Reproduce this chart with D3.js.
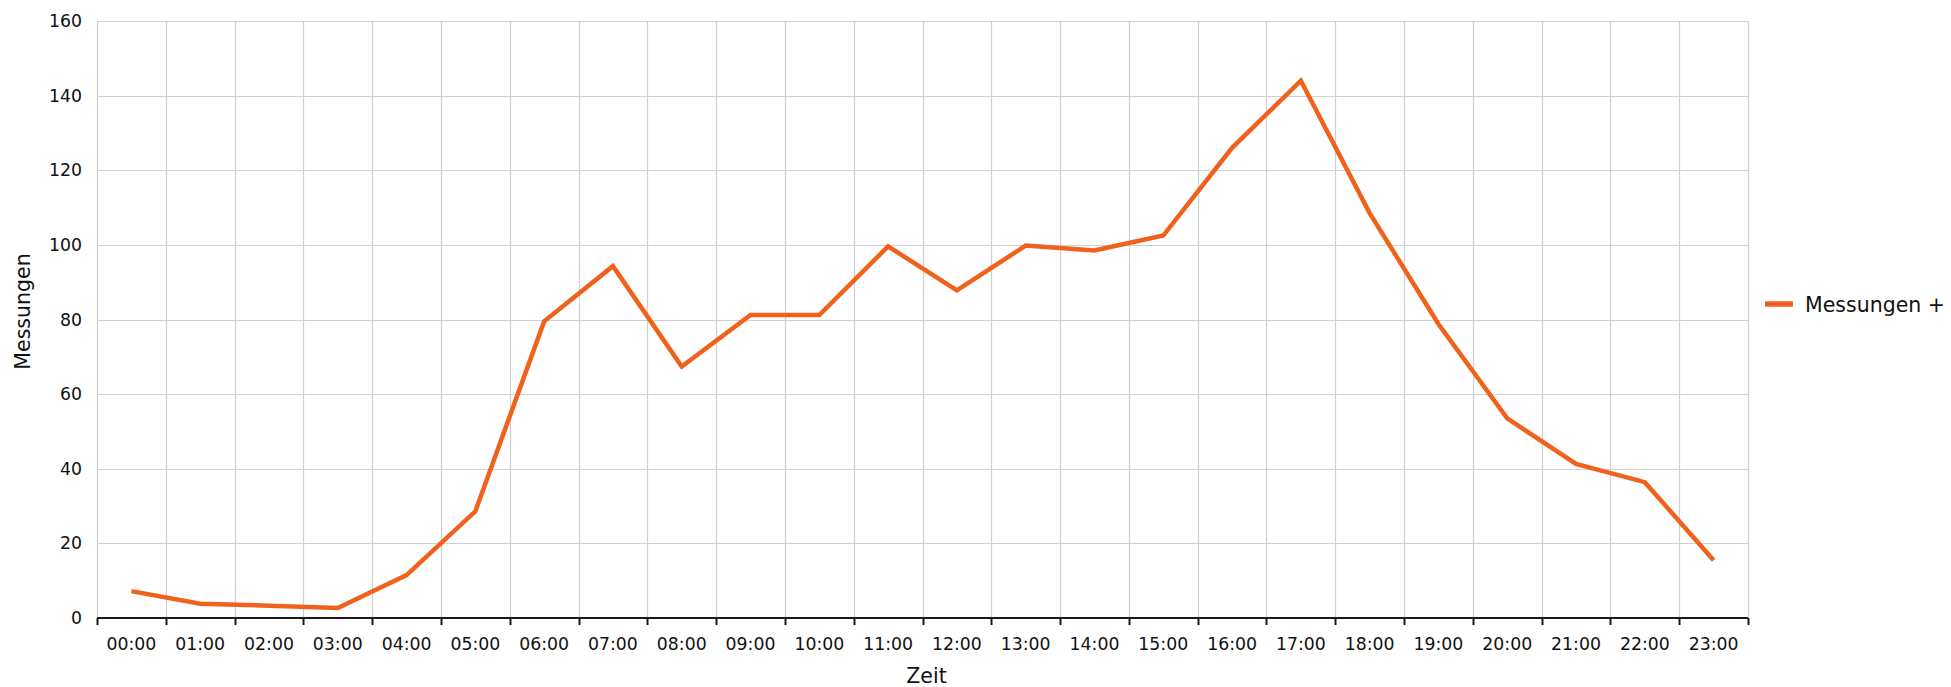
<!DOCTYPE html>
<html>
<head>
<meta charset="utf-8">
<script src="https://cdn.jsdelivr.net/npm/d3@7"></script>
<style>
  html, body { margin: 0; padding: 0; background: #ffffff; }
  svg { display: block; font-family: "DejaVu Sans", Verdana, sans-serif; }
</style>
</head>
<body>
<svg id="chart" width="1951" height="687"></svg>
<script>
// ---- data ----
const categories = ["00:00","01:00","02:00","03:00","04:00","05:00","06:00","07:00","08:00","09:00","10:00","11:00",
                    "12:00","13:00","14:00","15:00","16:00","17:00","18:00","19:00","20:00","21:00","22:00","23:00"];
const seriesName = "Messungen +";
const values = [7.2, 3.8, 3.3, 2.7, 11.5, 28.6, 79.5, 94.3, 67.4, 81.2, 81.2, 99.6,
                87.8, 99.8, 98.5, 102.5, 126, 144, 108.5, 78.8, 53.5, 41.3, 36.4, 15.5];
const yTicks = [0, 20, 40, 60, 80, 100, 120, 140, 160];
const xTitle = "Zeit";
const yTitle = "Messungen";

// ---- layout ----
const W = 1951, H = 687;
const plot = { left: 97, right: 1748, top: 21, bottom: 618 };
const lineColor = "#f0621c";
const gridColor = "#d0d0d0";

const svg = d3.select("#chart");

const x = d3.scaleBand().domain(categories).range([plot.left, plot.right]).paddingInner(0).paddingOuter(0);
const y = d3.scaleLinear().domain([0, 160]).range([plot.bottom, plot.top]);

// horizontal gridlines
svg.append("g").selectAll("line").data(yTicks).join("line")
  .attr("x1", plot.left).attr("x2", plot.right)
  .attr("y1", d => Math.round(y(d)) + 0.5).attr("y2", d => Math.round(y(d)) + 0.5)
  .attr("stroke", gridColor).attr("stroke-width", 1.2);

// vertical gridlines at band boundaries
const bounds = categories.map(c => x(c)).concat([x(categories[categories.length - 1]) + x.bandwidth()]);
svg.append("g").selectAll("line").data(bounds).join("line")
  .attr("x1", d => Math.round(d) + 0.5).attr("x2", d => Math.round(d) + 0.5)
  .attr("y1", plot.top).attr("y2", plot.bottom)
  .attr("stroke", gridColor).attr("stroke-width", 1.2);

// y axis labels
const yAxis = d3.axisLeft(y).tickValues(yTicks).tickSize(0).tickPadding(15);
const gy = svg.append("g").attr("transform", `translate(${plot.left},0)`).call(yAxis);
gy.select(".domain").remove();
gy.selectAll("text").attr("font-size", 17.3).attr("fill", "#111").attr("font-family", "DejaVu Sans, sans-serif");

// x axis
const xAxis = d3.axisBottom(x).tickSize(0).tickPadding(20);
const gx = svg.append("g").attr("transform", `translate(0,${plot.bottom})`).call(xAxis);
gx.select(".domain").attr("stroke", "#1a1a1a").attr("stroke-width", 2.2).attr("d", `M${plot.left},0H${plot.right}`);
gx.selectAll("text").attr("font-size", 17.3).attr("fill", "#111").attr("font-family", "DejaVu Sans, sans-serif");
// tick marks at band boundaries
gx.append("g").selectAll("line").data(bounds).join("line")
  .attr("x1", d => Math.round(d) + 0.5).attr("x2", d => Math.round(d) + 0.5)
  .attr("y1", 0).attr("y2", 7)
  .attr("stroke", "#1a1a1a").attr("stroke-width", 2);

// axis titles
svg.append("text")
  .attr("x", (plot.left + plot.right) / 2 + 4).attr("y", 683)
  .attr("text-anchor", "middle").attr("font-size", 20.5).attr("fill", "#111")
  .text(xTitle);
svg.append("text")
  .attr("transform", `translate(30,${(plot.top + plot.bottom) / 2 - 8}) rotate(-90)`)
  .attr("text-anchor", "middle").attr("font-size", 20.5).attr("fill", "#111")
  .text(yTitle);

// series line
const line = d3.line()
  .x((d, i) => x(categories[i]) + x.bandwidth() / 2)
  .y(d => y(d));
svg.append("path").datum(values)
  .attr("d", line)
  .attr("fill", "none")
  .attr("stroke", lineColor)
  .attr("stroke-width", 4.5)
  .attr("stroke-linejoin", "miter");

// legend
const lg = svg.append("g").attr("transform", "translate(1765,304)");
lg.append("line").attr("x1", 0).attr("x2", 28).attr("y1", 0).attr("y2", 0)
  .attr("stroke", lineColor).attr("stroke-width", 5.5);
lg.append("text").attr("x", 40).attr("y", 7.5)
  .attr("font-size", 20.5).attr("fill", "#111")
  .text(seriesName);
</script>
</body>
</html>
